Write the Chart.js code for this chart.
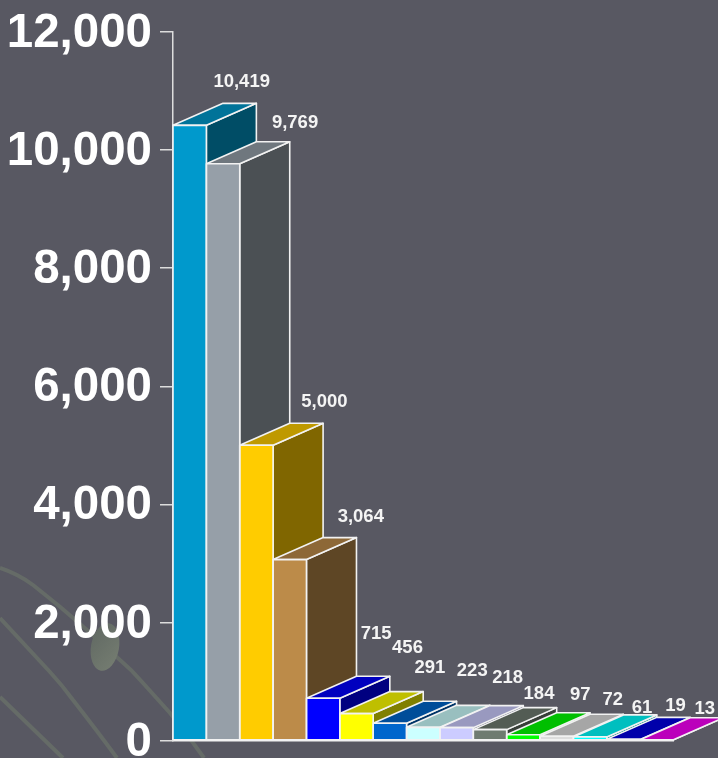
<!DOCTYPE html>
<html>
<head>
<meta charset="utf-8">
<script src="https://cdn.jsdelivr.net/npm/chart.js@4"></script>
<style>
html,body{margin:0;padding:0;background:#585862;width:718px;height:758px;overflow:hidden}
#bg{position:absolute;left:0;top:0}
#wrap{position:absolute;left:0;top:0;width:718px;height:758px}
</style>
</head>
<body>
<svg id="bg" width="718" height="758" viewBox="0 0 718 758">
  <defs><linearGradient id="leaf" x1="0" y1="0" x2="1" y2="1"><stop offset="0" stop-color="#606862"/><stop offset="1" stop-color="#767e72"/></linearGradient></defs>
  <g fill="none" stroke="#656b67" stroke-width="4">
    <path d="M0 568 Q18 574 33 585 Q60 606 87 630 L120 660 Q132 670 143 683 L170 713 Q188 735 204 758"/>
    <path d="M0 618 L50 672 Q62 685 73 700 Q98 732 117 758"/>
    <path d="M0 697 L63 758"/>
  </g>
  <ellipse cx="105" cy="647" rx="14" ry="24" transform="rotate(10 105 647)" fill="url(#leaf)"/>
</svg>
<div id="wrap"><canvas id="c" width="718" height="758"></canvas></div>
<script>
const categories = ["1","2","3","4","5","6","7","8","9","10","11","12","13","14","15"];
const values = [10419,9769,5000,3064,715,456,291,223,218,184,97,72,61,19,13];
const tickValues = [0,2000,4000,6000,8000,10000,12000];
const frontColors = ["#0099CC","#969FA8","#FFCC00","#BC8B49","#0000FF","#FFFF00","#0066CC","#CCFFFF","#CCCCFF","#6F7B70","#00FF00","#DDDDDD","#00FFFF","#0000CC","#FF00FF"];
const topColors = ["#007399","#6F777E","#BF9900","#8D6837","#0000BF","#BFBF00","#004D99","#99BFBF","#9999BF","#535C54","#00BF00","#A6A6A6","#00BFBF","#0000AA","#BB00BB"];
const sideColors = ["#004D66","#4B5054","#806600","#5E4625","#000080","#808000","#003366","#668080","#666680","#383E38","#008000","#6F6F6F","#008080","#000066","#800080"];
const labelDX = [52,72,68,71,53,51,40,49,51,49,57,56,52,52,48];
const labelDY = [-43,-41,-43,-43,-64,-66,-55,-56,-50,-36,-40,-36,-29,-33,-31];
const DEPTH_X = 50, DEPTH_Y = -22;
const EDGE = "#f2f2f2";

function faces(bar){
  const half = bar.width/2, l = bar.x-half, r = bar.x+half, t = bar.y, b = bar.base;
  return {l,r,t,b};
}
function poly(ctx, pts, fill){
  ctx.beginPath();
  pts.forEach((p,i)=> i?ctx.lineTo(p[0],p[1]):ctx.moveTo(p[0],p[1]));
  ctx.closePath();
  ctx.fillStyle = fill;
  ctx.fill();
  ctx.stroke();
}
const bars3d = {
  id:"bars3d",
  beforeDatasetsDraw(chart){
    const ctx = chart.ctx;
    ctx.save();
    ctx.strokeStyle = EDGE; ctx.lineWidth = 1.6; ctx.lineJoin = "round";
    chart.getDatasetMeta(0).data.forEach((bar,i)=>{
      const {l,r,t,b} = faces(bar);
      poly(ctx, [[r,t],[r+DEPTH_X,t+DEPTH_Y],[r+DEPTH_X,b+DEPTH_Y],[r,b]], sideColors[i]);
      poly(ctx, [[l,t],[l+DEPTH_X,t+DEPTH_Y],[r+DEPTH_X,t+DEPTH_Y],[r,t]], topColors[i]);
    });
    ctx.restore();
  },
  afterDatasetsDraw(chart){
    const ctx = chart.ctx;
    ctx.save();
    ctx.strokeStyle = EDGE; ctx.lineWidth = 1.6; ctx.lineJoin = "round";
    chart.getDatasetMeta(0).data.forEach((bar)=>{
      const {l,r,t,b} = faces(bar);
      ctx.strokeRect(l,t,r-l,b-t);
    });
    ctx.fillStyle = "#f4f4f4";
    ctx.font = "bold 18.5px 'Liberation Sans', Arial, sans-serif";
    ctx.textAlign = "center"; ctx.textBaseline = "middle";
    chart.getDatasetMeta(0).data.forEach((bar,i)=>{
      ctx.fillText(values[i].toLocaleString("en-US"), bar.x+labelDX[i], bar.y+labelDY[i]);
    });
    ctx.restore();
  }
};
new Chart(document.getElementById("c"),{
  type:"bar",
  data:{labels:categories,datasets:[{data:values,backgroundColor:frontColors,borderWidth:0,categoryPercentage:1,barPercentage:1}]},
  options:{
    responsive:false,animation:false,
    layout:{padding:{top:32,bottom:17.5,left:0,right:44.5}},
    plugins:{legend:{display:false},tooltip:{enabled:false}},
    scales:{
      x:{
        display:true,
        grid:{display:false},
        border:{display:true,color:EDGE,width:1.5},
        ticks:{display:false},
        afterFit(s){s.height=0;s.paddingLeft=0;s.paddingRight=0;}
      },
      y:{
        min:0,max:12000,
        afterBuildTicks(s){s.ticks=tickValues.map(v=>({value:v}));},
        grid:{drawOnChartArea:false,drawTicks:true,tickLength:13,color:"#dddddd",lineWidth:1.5},
        border:{color:"#dddddd",width:1.5},
        ticks:{
          color:"#ffffff",padding:8,labelOffset:2,
          font:{family:"'Liberation Sans', Arial, sans-serif",weight:"bold",size:47.5},
          callback:v=>Number(v).toLocaleString("en-US")
        },
        afterFit(s){s.width=173;s.paddingTop=0;s.paddingBottom=0;}
      }
    }
  },
  plugins:[bars3d]
});
</script>
</body>
</html>
